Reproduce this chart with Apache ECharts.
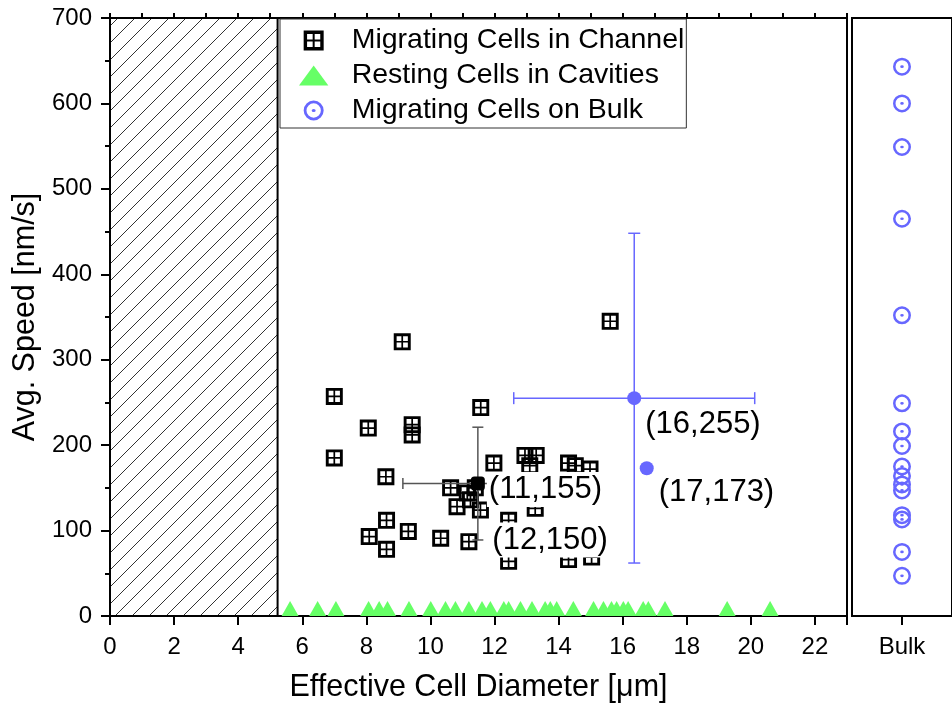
<!DOCTYPE html>
<html>
<head>
<meta charset="utf-8">
<script src="https://cdn.jsdelivr.net/npm/echarts@6/dist/echarts.min.js"></script>
<style>
  html, body { margin: 0; padding: 0; background: #fff; }
  #chart { width: 952px; height: 708px; }
</style>
</head>
<body>
<div id="chart"></div>
<script>
// migrating cells in channel: [effective diameter (um), avg speed (nm/s)]
const channelCells = [
  [7.00, 257], [7.00, 185], [8.06, 220], [9.12, 321], [9.43, 224], [9.43, 212],
  [8.61, 163], [8.63, 112], [8.09, 93], [8.63, 78], [9.31, 99], [10.32, 91],
  [11.20, 87], [10.63, 150], [10.83, 128], [11.15, 144], [11.25, 136], [11.56, 124],
  [11.40, 150], [11.98, 179], [12.95, 188], [13.30, 188], [13.10, 176], [14.31, 179],
  [14.52, 176], [14.98, 172], [13.27, 126], [12.44, 112], [12.44, 64], [14.31, 66],
  [15.03, 69], [11.57, 244], [15.61, 345]
];
// resting cells in cavities: diameter (um), speed is zero
const restingDiam = [
  5.62, 6.48, 7.05, 8.07, 8.40, 8.66, 9.33, 10.01, 10.47, 10.78, 11.20, 11.61,
  11.87, 12.29, 12.44, 12.81, 13.17, 13.58, 13.74, 13.94, 14.46, 15.09, 15.40,
  15.65, 15.81, 16.02, 16.17, 16.64, 16.80, 17.32, 19.26, 20.60
];
const restingSpeed = 0;
// migrating cells on bulk: avg speed (nm/s)
const bulkSpeeds = [643, 600, 549, 465, 352, 249, 216, 199, 175, 164, 154, 147, 118, 113, 75, 47];
const bulkCategory = ['Bulk'];

// means with error (x, y, xErr, yErr)
const channelMean = [11.48, 155, 2.34, 66];
const bulkMean = [16.36, 255, 3.76, 193];
const bulkMean2 = [16.75, 173];
const channelMeanLabel = '(11,155)';
const channelLowLabel = '(12,150)';
const bulkMeanLabel = '(16,255)';
const bulkMean2Label = '(17,173)';

const hatchEnd = 5.23;
const xMax = 23;
const yMax = 700;

const BLUE = '#6767ff';
const GREEN = '#66ff66';
const FONT = '"Liberation Sans", Arial, sans-serif';

const squareCross = 'path://M0 0H20V20H0Z M3.4 3.4V9H9V3.4Z M11 3.4V9H16.6V3.4Z M3.4 11V16.6H9V11Z M11 11V16.6H16.6V11Z';
const ringDot = 'path://M10 0A10 10 0 1 1 10 20A10 10 0 1 1 10 0Z M10 2.8A7.2 7.2 0 1 0 10 17.2A7.2 7.2 0 1 0 10 2.8Z M10 8.5A2 1.5 0 1 1 10 11.5A2 1.5 0 1 1 10 8.5Z';
const triangle = 'path://M11 0L22 15H0Z';

// hatch tile for the excluded diameter range
const tile = document.createElement('canvas');
tile.width = 17; tile.height = 17;
const g = tile.getContext('2d');
g.strokeStyle = '#333';
g.lineWidth = 1;
g.beginPath();
g.moveTo(0, 17); g.lineTo(17, 0);
g.moveTo(-2, 2); g.lineTo(2, -2);
g.moveTo(15, 19); g.lineTo(19, 15);
g.stroke();

function errRender(color, cap) {
  return function (params, api) {
    const x = api.value(0), y = api.value(1), ex = api.value(2), ey = api.value(3);
    const c = api.coord([x, y]);
    const l = api.coord([x - ex, y]);
    const r = api.coord([x + ex, y]);
    const t = api.coord([x, y + ey]);
    const b = api.coord([x, y - ey]);
    const style = { stroke: color, lineWidth: 1.5 };
    return {
      type: 'group',
      children: [
        { type: 'line', shape: { x1: l[0], y1: c[1], x2: r[0], y2: c[1] }, style },
        { type: 'line', shape: { x1: c[0], y1: t[1], x2: c[0], y2: b[1] }, style },
        { type: 'line', shape: { x1: l[0], y1: c[1] - cap, x2: l[0], y2: c[1] + cap }, style },
        { type: 'line', shape: { x1: r[0], y1: c[1] - cap, x2: r[0], y2: c[1] + cap }, style },
        { type: 'line', shape: { x1: c[0] - cap, y1: t[1], x2: c[0] + cap, y2: t[1] }, style },
        { type: 'line', shape: { x1: c[0] - cap, y1: b[1], x2: c[0] + cap, y2: b[1] }, style }
      ]
    };
  };
}

const labelBase = {
  show: true, position: 'right', color: '#000', fontSize: 31, fontFamily: FONT,
  backgroundColor: '#fff', padding: [2, 2]
};

const chart = echarts.init(document.getElementById('chart'));
const option = {
  animation: false,
  backgroundColor: '#fff',
  textStyle: { fontFamily: FONT, color: '#000' },
  grid: [
    { left: 110, top: 18, width: 737, height: 598, show: true, borderColor: '#000', borderWidth: 2 },
    { left: 852, top: 18, width: 110, height: 598, show: true, borderColor: '#000', borderWidth: 2 }
  ],
  legend: {
    orient: 'vertical', left: 280, top: 19,
    padding: [5, 2, 1, 19], itemWidth: 66, itemHeight: 20, itemGap: 2,
    symbolKeepAspect: true,
    backgroundColor: '#fff', borderColor: '#333', borderWidth: 1,
    textStyle: { fontSize: 28.5, fontFamily: FONT, color: '#000', lineHeight: 33 },
    data: ['Migrating Cells in Channel', 'Resting Cells in Cavities', 'Migrating Cells on Bulk'],
    z: 20
  },
  xAxis: [
    {
      gridIndex: 0, type: 'value', min: 0, max: xMax, interval: 2,
      name: 'Effective Cell Diameter [\u03bcm]', nameLocation: 'middle', nameGap: 56,
      nameTextStyle: { fontSize: 30.5, fontFamily: FONT, color: '#000' },
      axisLine: { show: true, lineStyle: { color: '#000', width: 2 } },
      axisTick: { show: true, length: 9, lineStyle: { color: '#000', width: 2 } },
      axisLabel: { fontSize: 24, color: '#000', margin: 19, formatter: v => (v === xMax ? '' : v) },
      splitLine: { show: false }
    },
    {
      gridIndex: 0, type: 'value', min: 0, max: xMax, interval: 1,
      axisLine: { show: false },
      axisTick: { show: true, length: 5, lineStyle: { color: '#000', width: 2 } },
      axisLabel: { show: false },
      splitLine: { show: false }
    },
    {
      gridIndex: 1, type: 'category', data: bulkCategory,
      axisLine: { show: true, lineStyle: { color: '#000', width: 2 } },
      axisTick: { show: true, alignWithLabel: true, length: 9, lineStyle: { color: '#000', width: 2 } },
      axisLabel: { fontSize: 24, color: '#000', margin: 19 },
      splitLine: { show: false }
    }
  ],
  yAxis: [
    {
      gridIndex: 0, type: 'value', min: 0, max: yMax, interval: 100,
      name: 'Avg. Speed [nm/s]', nameLocation: 'middle', nameGap: 64,
      nameTextStyle: { fontSize: 30.5, fontFamily: FONT, color: '#000' },
      axisLine: { show: true, lineStyle: { color: '#000', width: 2 } },
      axisTick: { show: true, length: 9, lineStyle: { color: '#000', width: 2 } },
      minorTick: { show: true, splitNumber: 2, length: 5, lineStyle: { color: '#000', width: 2 } },
      axisLabel: { fontSize: 24, color: '#000', margin: 18 },
      splitLine: { show: false }
    },
    {
      gridIndex: 1, type: 'value', min: 0, max: yMax, interval: 100,
      axisLine: { show: true, lineStyle: { color: '#000', width: 2 } },
      axisTick: { show: false }, axisLabel: { show: false }, splitLine: { show: false }
    }
  ],
  series: [
    {
      name: 'Resting Cells in Cavities', type: 'scatter', xAxisIndex: 0, yAxisIndex: 0,
      symbol: triangle, symbolSize: [17, 15], symbolOffset: [0, -7.5],
      itemStyle: { color: GREEN, opacity: 1 },
      data: restingDiam.map(d => [d, restingSpeed]),
      z: 2,
      markArea: {
        silent: true,
        itemStyle: { color: { image: tile, repeat: 'repeat' }, borderColor: '#000', borderWidth: 2 },
        data: [[{ xAxis: 0, yAxis: 0 }, { xAxis: hatchEnd, yAxis: yMax }]]
      }
    },
    {
      name: 'Migrating Cells in Channel', type: 'scatter', xAxisIndex: 0, yAxisIndex: 0,
      symbol: squareCross, symbolSize: 17,
      itemStyle: { color: '#000', opacity: 1 },
      data: channelCells, z: 3
    },
    {
      name: 'channelErr', type: 'custom', xAxisIndex: 0, yAxisIndex: 0,
      renderItem: errRender('#555', 5.5), encode: { x: 0, y: 1 },
      data: [channelMean], z: 4, silent: true
    },
    {
      name: 'bulkErr', type: 'custom', xAxisIndex: 0, yAxisIndex: 0,
      renderItem: errRender(BLUE, 6), encode: { x: 0, y: 1 },
      data: [bulkMean], z: 4, silent: true
    },
    {
      name: 'channelMean', type: 'scatter', xAxisIndex: 0, yAxisIndex: 0,
      symbol: 'roundRect', symbolSize: 14, itemStyle: { color: '#000', opacity: 1 },
      data: [{ value: channelMean.slice(0, 2),
               label: Object.assign({}, labelBase, { formatter: channelMeanLabel, distance: 2, offset: [0, 6] }) }],
      z: 6
    },
    {
      name: 'channelLow', type: 'scatter', xAxisIndex: 0, yAxisIndex: 0,
      symbol: 'rect', symbolSize: 1, itemStyle: { color: '#555', opacity: 1 },
      data: [{ value: [channelMean[0], channelMean[1] - channelMean[3]],
               label: Object.assign({}, labelBase, { formatter: channelLowLabel, distance: 12 }) }],
      z: 6
    },
    {
      name: 'bulkMean', type: 'scatter', xAxisIndex: 0, yAxisIndex: 0,
      symbol: 'circle', symbolSize: 14, itemStyle: { color: BLUE, opacity: 1 },
      data: [
        { value: bulkMean.slice(0, 2),
          label: Object.assign({}, labelBase, { formatter: bulkMeanLabel, distance: 2, offset: [0, 26] }) },
        { value: bulkMean2,
          label: Object.assign({}, labelBase, { formatter: bulkMean2Label, distance: 3, offset: [0, 24] }) }
      ],
      z: 6
    },
    {
      name: 'Migrating Cells on Bulk', type: 'scatter', xAxisIndex: 2, yAxisIndex: 1,
      symbol: ringDot, symbolSize: 18,
      itemStyle: { color: BLUE, opacity: 1 },
      data: bulkSpeeds.map(v => [bulkCategory[0], v]), z: 3
    }
  ]
};
chart.setOption(option);
</script>
</body>
</html>
